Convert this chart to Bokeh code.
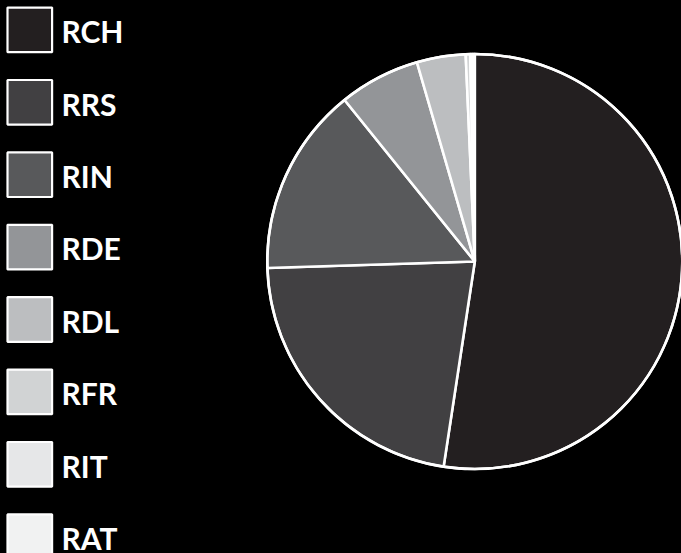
import numpy as np
from bokeh.plotting import figure
from bokeh.models import Range1d, ColumnDataSource
from bokeh.core.properties import value
from bokeh.embed import file_html
from bokeh.resources import INLINE

# ---- data ----
categories = ["RCH", "RRS", "RIN", "RDE", "RDL", "RFR", "RIT", "RAT"]
shares = [52.4, 22.1, 14.7, 6.3, 3.8, 0.35, 0.2, 0.15]
colors = ["#231f20", "#414042", "#58595b", "#939598", "#bcbec0", "#d1d3d4", "#e6e7e8", "#f1f2f2"]

W, H = 681, 553
p = figure(width=W, height=H, output_backend="svg", toolbar_location=None,
           x_range=Range1d(0, W), y_range=Range1d(0, H),
           x_axis_location=None, y_axis_location=None, min_border=0)
p.grid.visible = False
p.outline_line_color = None
p.background_fill_color = "black"
p.border_fill_color = "black"

# ---- pie ----
vals = np.array(shares, dtype=float)
frac = vals / vals.sum()
cum_after = np.cumsum(frac)
cum_before = cum_after - frac
start = np.pi / 2 - 2 * np.pi * cum_after
end = np.pi / 2 - 2 * np.pi * cum_before
cx, cy, r = 474.3, H - 261.0, 207.5
src = ColumnDataSource(dict(cat=categories, val=shares, color=colors,
                            start=start, end=end))
p.wedge(x=cx, y=cy, radius=r, start_angle="start", end_angle="end",
        direction="anticlock", fill_color="color", line_color="white",
        line_width=2.6, source=src)
p.circle(x=[cx], y=[cy], radius=r, fill_color=None, line_color="white", line_width=2.6)

# ---- legend ----
row0, step = 29.4, 72.4
ys = [H - (row0 + step * i) for i in range(len(categories))]
leg = ColumnDataSource(dict(cat=categories, color=colors, y=ys,
                            ty=[y - 1.3 for y in ys]))
p.rect(x=29.3, y="y", width=44.6, height=44.6, fill_color="color",
       line_color="white", line_width=2.2, source=leg)
p.text(x=61, y="ty", text="cat", source=leg, text_color="white",
       text_font=value("Lato"), text_font_style="bold", text_font_size="30px",
       text_baseline="alphabetic", text_align="left")

html = file_html(p, INLINE)
html = html.replace("<head>", "<head><style>html,body{margin:0;padding:0;background:#000;overflow:hidden}</style>", 1)
open("out.html", "w").write(html)
